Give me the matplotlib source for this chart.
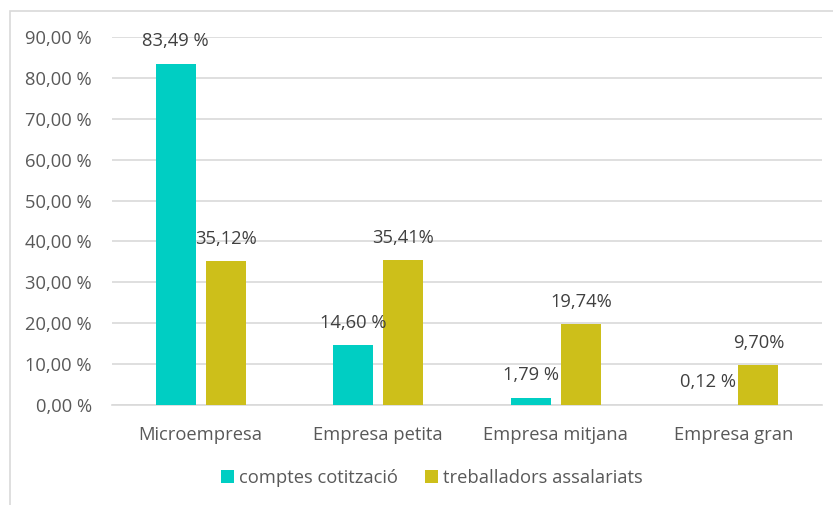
import matplotlib
matplotlib.use("Agg")
import matplotlib.pyplot as plt
from matplotlib.patches import Rectangle
import numpy as np

categories = ["Microempresa", "Empresa petita", "Empresa mitjana", "Empresa gran"]
comptes = [83.49, 14.60, 1.79, 0.12]
treballadors = [35.12, 35.41, 19.74, 9.70]
comptes_labels = ["83,49 %", "14,60 %", "1,79 %", "0,12 %"]
treb_labels = ["35,12%", "35,41%", "19,74%", "9,70%"]
yticks = [0, 10, 20, 30, 40, 50, 60, 70, 80, 90]
ytick_labels = ["0,00 %", "10,00 %", "20,00 %", "30,00 %", "40,00 %", "50,00 %",
                "60,00 %", "70,00 %", "80,00 %", "90,00 %"]
series_names = ["comptes cotització", "treballadors assalariats"]

plt.rcParams['font.family'] = ['Open Sans', 'DejaVu Sans']
text_color = "#595959"
c1 = "#00CEC3"
c2 = "#CDBF1A"
fs = 13.2

W, H = 833, 505
fig = plt.figure(figsize=(W / 100, H / 100), dpi=100)
fig.patches.append(Rectangle((10 / W, -0.1), 1, 1.1 - 10.5 / H, transform=fig.transFigure,
                             fill=False, edgecolor="#D9D9D9", linewidth=1.2))

ax = fig.add_axes([112 / W, (H - 405) / H, (822 - 112) / W, (405 - 37) / H])
x = np.arange(len(categories))
w = 0.225
off = 0.142
b1 = ax.bar(x - off, comptes, w, color=c1, label=series_names[0], zorder=3)
b2 = ax.bar(x + off, treballadors, w, color=c2, label=series_names[1], zorder=3)

for xi, v, lab in zip(x - off, comptes, comptes_labels):
    ax.annotate(lab, (xi, v), xytext=(0, 16), textcoords="offset points",
                ha="center", va="center", fontsize=fs, color="#404040")
for xi, v, lab in zip(x + off, treballadors, treb_labels):
    ax.annotate(lab, (xi, v), xytext=(0, 16), textcoords="offset points",
                ha="center", va="center", fontsize=fs, color="#404040")

ax.set_xlim(-0.5, 3.5)
ax.set_ylim(0, 90)
ax.set_yticks(yticks)
ax.set_yticklabels(ytick_labels)
ax.set_xticks(x)
ax.set_xticklabels(categories)
ax.tick_params(axis="both", length=0, labelsize=fs, colors=text_color)
ax.tick_params(axis="y", pad=14.5)
ax.tick_params(axis="x", pad=15)
ax.grid(axis="y", color="#D9D9D9", linewidth=1.2, zorder=0)
for s in ["top", "right", "left"]:
    ax.spines[s].set_visible(False)
ax.spines["bottom"].set_color("#D9D9D9")
ax.spines["bottom"].set_linewidth(1.2)

leg = fig.legend(handles=[b1, b2], labels=series_names, loc="center",
                 bbox_to_anchor=(432 / W, 1 - 478 / H), ncol=2, frameon=False,
                 fontsize=fs, handlelength=0.7, handleheight=0.7,
                 handletextpad=0.3, columnspacing=1.45)
for t in leg.get_texts():
    t.set_color(text_color)

fig.savefig("out.png", dpi=100)
